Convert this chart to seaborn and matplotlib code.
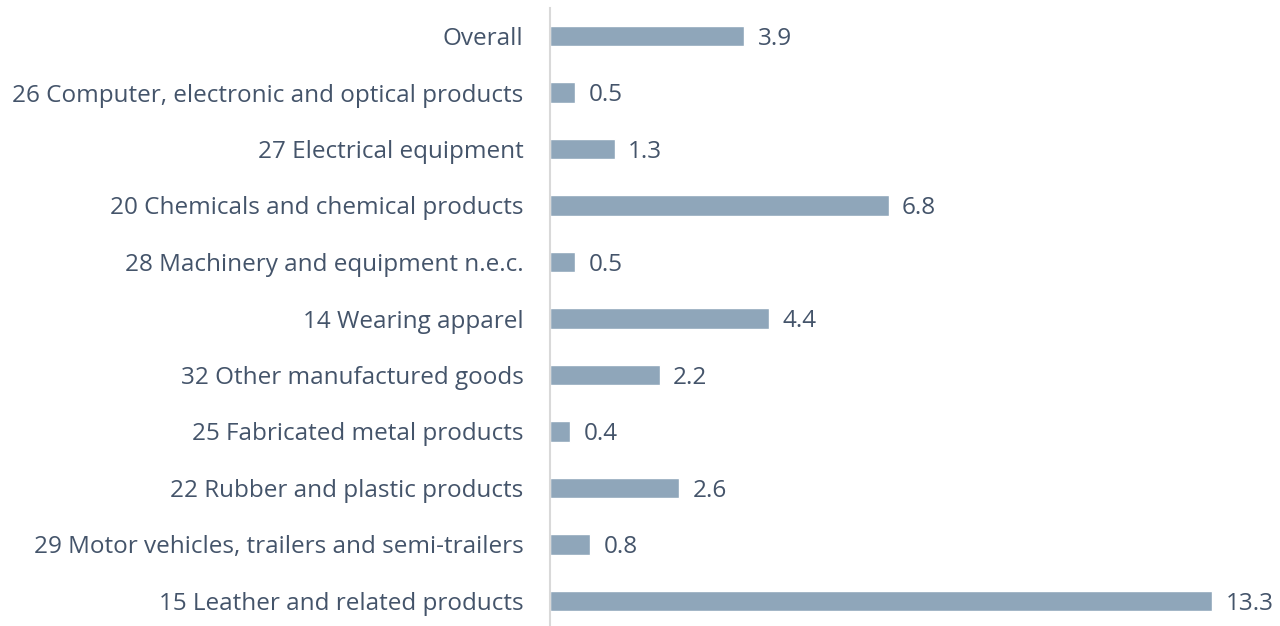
import matplotlib
matplotlib.use('Agg')
import matplotlib.pyplot as plt
import seaborn as sns
import pandas as pd

# data, top to bottom as shown
categories = [
    'Overall',
    '26 Computer, electronic and optical products',
    '27 Electrical equipment',
    '20 Chemicals and chemical products',
    '28 Machinery and equipment n.e.c.',
    '14 Wearing apparel',
    '32 Other manufactured goods',
    '25 Fabricated metal products',
    '22 Rubber and plastic products',
    '29 Motor vehicles, trailers and semi-trailers',
    '15 Leather and related products',
]
values = [3.9, 0.5, 1.3, 6.8, 0.5, 4.4, 2.2, 0.4, 2.6, 0.8, 13.3]

df = pd.DataFrame({'cat': categories, 'val': values})

sns.set_style('white')
plt.rcParams['font.family'] = ['Open Sans', 'DejaVu Sans']
txt = '#44546A'

fig = plt.figure(figsize=(12.8, 6.26), dpi=100)
ax = fig.add_axes([550 / 1280, -3.25 / 626, 720 / 1280, 621.5 / 626])

sns.barplot(data=df, x='val', y='cat', color='#8FA6BA', saturation=1,
            width=0.355, orient='h', ax=ax)

ax.set_xlim(0, 720 / 49.8)
ax.set_ylim(10.5, -0.5)
ax.set_xlabel('')
ax.set_ylabel('')
ax.set_xticks([])
ax.tick_params(axis='y', length=0, pad=19, labelsize=17.5, labelcolor=txt)

for s in ['top', 'right', 'bottom']:
    ax.spines[s].set_visible(False)
ax.spines['left'].set_color('#D9D9D9')
ax.spines['left'].set_linewidth(1.5)

for i, v in enumerate(values):
    ax.text(v + 0.27, i + 0.05, f'{v:.1f}', va='center', ha='left',
            fontsize=17.5, color=txt)

fig.savefig('out.png', dpi=100)
